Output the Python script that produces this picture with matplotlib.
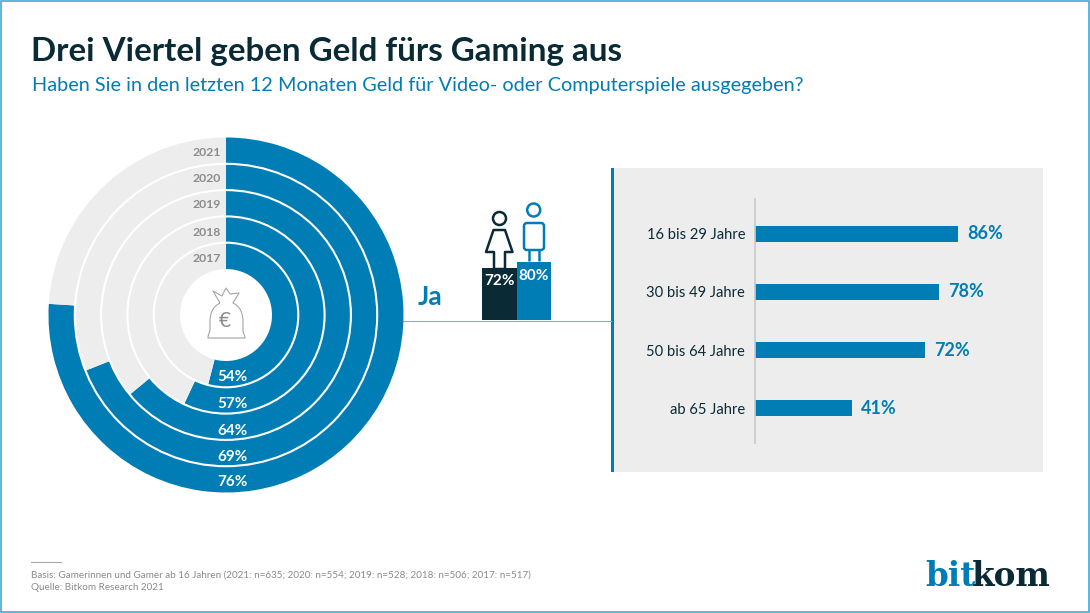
import matplotlib
matplotlib.use("Agg")
import matplotlib.pyplot as plt
from matplotlib.patches import Circle, Polygon, Rectangle, FancyBboxPatch, PathPatch
from matplotlib.path import Path

# Data
years = ["2021", "2020", "2019", "2018", "2017"]
yes_share = [76, 69, 64, 57, 54]
age_groups = ["16 bis 29 Jahre", "30 bis 49 Jahre", "50 bis 64 Jahre", "ab 65 Jahre"]
age_share = [86, 78, 72, 41]
gender_share = [72, 80]

title = "Drei Viertel geben Geld fürs Gaming aus"
subtitle = "Haben Sie in den letzten 12 Monaten Geld für Video- oder Computerspiele ausgegeben?"
basis = "Basis: Gamerinnen und Gamer ab 16 Jahren (2021: n=635; 2020: n=554; 2019: n=528; 2018: n=506; 2017: n=517)"
source = "Quelle: Bitkom Research 2021"

BLUE = "#007DB5"
DARK = "#0A2A35"
GREY = "#EDEDED"
FRAME = "#3FA9D6"
W, H = 1090, 613

plt.rcParams["font.family"] = ["Lato", "DejaVu Sans"]
fig = plt.figure(figsize=(W / 100, H / 100), dpi=100)


def px_axes(x0, y0, x1, y1, zorder=1):
    """axes from a box in picture pixels (y downwards)"""
    ax = fig.add_axes([x0 / W, 1 - y1 / H, (x1 - x0) / W, (y1 - y0) / H], zorder=zorder)
    ax.patch.set_alpha(0)
    return ax


# background layer in pixel coordinates
bg = px_axes(0, 0, W, H, zorder=0)
bg.set_xlim(0, W)
bg.set_ylim(H, 0)
bg.axis("off")
bg.add_patch(Rectangle((0.75, 0.75), W - 1.5, H - 1.5, fill=False, ec=FRAME, lw=1.2))
bg.add_patch(Rectangle((611, 168), 432, 304, fc=GREY, ec="none"))
bg.add_patch(Rectangle((611, 168), 3, 304, fc=BLUE, ec="none"))
bg.plot([403, 611], [320.5, 320.5], color="#6BBADD", lw=0.8)
bg.plot([31, 61], [561.5, 561.5], color="#A8A8A8", lw=0.8)

bg.text(31, 51, title, fontsize=23.9, fontweight="bold", color=DARK, va="center")
bg.text(32, 86, subtitle, fontsize=14.3, color=BLUE, va="center")
bg.text(31, 575, basis, fontsize=7.1, color="#8A8A8A", va="center")
bg.text(31, 588, source, fontsize=7.1, color="#8A8A8A", va="center")
bg.text(430, 297, "Ja", fontsize=19, fontweight="bold", color=BLUE, va="center", ha="center")

bg.text(925, 576, "bit", fontsize=23.5, fontweight="bold", family="DejaVu Serif", color=BLUE, va="center")
bg.text(972, 576, "kom", fontsize=23.5, fontweight="bold", family="DejaVu Serif", color=DARK, va="center")

# rings, 2021 outermost
cx, cy, r_out, r_in = 226, 315, 177.5, 46
pie_ax = px_axes(cx - r_out, cy - r_out, cx + r_out, cy + r_out, zorder=1)
ring = (r_out - r_in) / 5
for i, share in enumerate(yes_share):
    radius = (r_out - i * ring) / r_out
    pie_ax.pie([share, 100 - share], colors=[BLUE, GREY], startangle=90, counterclock=False,
               radius=radius, frame=True,
               wedgeprops=dict(width=ring / r_out, edgecolor="none"))
    # white separator between the rings
    if i > 0:
        pie_ax.add_patch(Circle((0, 0), radius, fill=False, ec="white", lw=1.5, zorder=5))
pie_ax.set_xlim(-1, 1)
pie_ax.set_ylim(-1, 1)
pie_ax.axis("off")

year_y = [153, 178, 204, 232, 259]
share_y = [482, 457, 431, 404, 377]
for yr, share, y0, y1 in zip(years, yes_share, year_y, share_y):
    fig.text(221 / W, 1 - y0 / H, yr, fontsize=8.8, fontweight="bold", color="#8C8C8C",
             ha="right", va="center", zorder=10)
    fig.text(232 / W, 1 - y1 / H, f"{share}%", fontsize=11, fontweight="bold", color="white",
             ha="center", va="center", zorder=10)

# money bag
top = px_axes(0, 0, W, H, zorder=3)
top.set_xlim(0, W)
top.set_ylim(H, 0)
top.axis("off")
bag = [(Path.MOVETO, (220, 303)),
       (Path.CURVE4, (212, 307)), (Path.CURVE4, (210, 314)), (Path.CURVE4, (210, 322)),
       (Path.LINETO, (210, 330)),
       (Path.CURVE4, (209, 334)), (Path.CURVE4, (208, 335)), (Path.CURVE4, (208, 338)),
       (Path.LINETO, (245, 338)),
       (Path.CURVE4, (245, 335)), (Path.CURVE4, (243, 334)), (Path.CURVE4, (243, 330)),
       (Path.LINETO, (243, 322)),
       (Path.CURVE4, (243, 314)), (Path.CURVE4, (241, 307)), (Path.CURVE4, (233, 303)),
       (Path.LINETO, (239, 293)), (Path.LINETO, (230, 294)), (Path.LINETO, (226, 288)),
       (Path.LINETO, (222, 296)), (Path.LINETO, (213, 291)), (Path.LINETO, (220, 303))]
codes, verts = zip(*bag)
top.add_patch(PathPatch(Path(verts, codes), fc="none", ec="#A5A5A5", lw=0.8, joinstyle="round"))
top.text(225, 321, "€", fontsize=15, color="#8C8C8C", ha="center", va="center")

# gender bars
g_ax = px_axes(482, 248, 551, 320, zorder=1)
g_ax.bar([0, 1], gender_share, width=1, color=[DARK, BLUE])
g_ax.set_xlim(-0.5, 1.5)
g_ax.set_ylim(0, 100)
g_ax.axis("off")
for x, v in zip([0, 1], gender_share):
    g_ax.annotate(f"{v}%", (x, v), xytext=(0, -4.5), textcoords="offset points", ha="center", va="top",
                  color="white", fontsize=11, fontweight="bold")

# person icons
top.add_patch(Circle((499.5, 218.5), 6.5, fc="none", ec=DARK, lw=1.8))
top.add_patch(Polygon([(493.5, 230), (505, 230), (512.5, 252), (505, 252), (505, 269),
                       (494, 269), (494, 252), (486, 252)], closed=True, fc="none", ec=DARK,
                      lw=1.8, joinstyle="round"))
top.add_patch(Circle((533.7, 210), 6.5, fc="none", ec=BLUE, lw=1.8))
top.add_patch(FancyBboxPatch((524, 223), 20, 27, boxstyle="round,pad=0,rounding_size=3",
                             fc="none", ec=BLUE, lw=1.8))
top.plot([529, 529], [250, 261], color=BLUE, lw=1.8, solid_capstyle="butt")
top.plot([539, 539], [250, 261], color=BLUE, lw=1.8, solid_capstyle="butt")

# age bars: 2.36 px per percent
a_ax = px_axes(755, 199, 991, 443, zorder=1)
pos = range(len(age_groups))
a_ax.barh(list(pos), age_share, height=16 / 58, color=BLUE)
a_ax.set_xlim(0, 100)
a_ax.set_ylim(3.6, -0.6)
a_ax.set_yticks(list(pos), age_groups)
a_ax.set_xticks([])
a_ax.tick_params(axis="y", length=0, pad=7, labelsize=10.6, labelcolor=DARK)
for s in ["top", "right", "bottom"]:
    a_ax.spines[s].set_visible(False)
a_ax.spines["left"].set_color("#C8C8C8")
a_ax.spines["left"].set_linewidth(1.2)
for i, v in zip(pos, age_share):
    a_ax.annotate(f"{v}%", (v, i), xytext=(6.5, 0), textcoords="offset points", va="center",
                  color=BLUE, fontsize=13, fontweight="bold")

fig.savefig("out.png", dpi=100)
